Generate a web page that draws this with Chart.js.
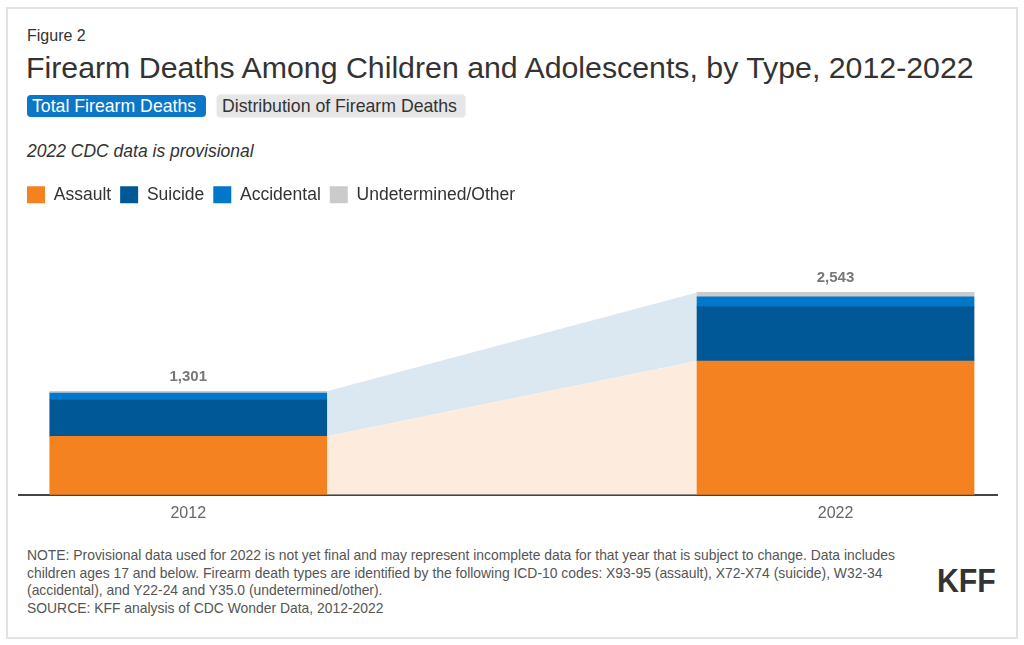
<!DOCTYPE html>
<html>
<head>
<meta charset="utf-8">
<script src="https://cdn.jsdelivr.net/npm/chart.js@4/dist/chart.umd.min.js"></script>
<style>
  html, body { margin:0; padding:0; background:#fff; }
  body { width:1024px; height:645px; position:relative; overflow:hidden; font-family:"Liberation Sans", Arial, sans-serif; color:#333; }
  .frame { position:absolute; left:6px; top:7px; width:1008px; height:628px; border:2px solid #e2e2e2; }
  .fig { position:absolute; left:27px; top:27px; font-size:16px; color:#333; }
  .title { position:absolute; left:26px; top:51px; font-size:30.3px; color:#333; white-space:nowrap; }
  .tab { position:absolute; top:95px; height:22px; line-height:22px; font-size:17.7px; border-radius:4px; white-space:nowrap; }
  .tab1 { left:27px; width:174px; padding-left:5px; background:#0a77c9; color:#fff; }
  .tab2 { left:217px; width:243px; padding-left:5px; background:#e6e6e6; color:#333; box-shadow:0 0 2px #ccc; }
  .sub { position:absolute; left:27px; top:141px; font-size:17.5px; font-style:italic; color:#333; }
  #wrap { position:absolute; left:18px; top:177px; width:980px; height:355px; }
  .note { position:absolute; left:27px; top:547px; font-size:13.9px; line-height:17.7px; color:#555; white-space:nowrap; }
  .kff { position:absolute; left:937px; top:561px; font-family:"Liberation Sans Narrow","Liberation Sans",Arial,sans-serif; font-weight:bold; font-size:34px; color:#333; transform:scaleX(0.89); transform-origin:left top; }
</style>
</head>
<body>
<div class="frame"></div>
<div class="fig">Figure 2</div>
<div class="title">Firearm Deaths Among Children and Adolescents, by Type, 2012-2022</div>
<div class="tab tab1">Total Firearm Deaths</div>
<div class="tab tab2">Distribution of Firearm Deaths</div>
<div class="sub">2022 CDC data is provisional</div>
<div id="wrap"><canvas id="c" width="980" height="355"></canvas></div>
<div class="note">NOTE: Provisional data used for 2022 is not yet final and may represent incomplete data for that year that is subject to change. Data includes<br>children ages 17 and below. Firearm death types are identified by the following ICD-10 codes: X93-95 (assault), X72-X74 (suicide), W32-34<br>(accidental), and Y22-24 and Y35.0 (undetermined/other).<br>SOURCE: KFF analysis of CDC Wonder Data, 2012-2022</div>
<div class="kff">KFF</div>
<script>
const categories = ['2012', '2022'];
const assault = [735, 1681];
const suicide = [463, 681];
const accidental = [80, 126];
const undetermined = [23, 55];
const totals = [1301, 2543];

const BAR_HALF = 0.214; // half bar width in x units
const pts = (arr) => arr.map((v, i) => ({ x: i, y: v }));
const bandPts = (arr) => [{ x: 0 + BAR_HALF, y: arr[0] }, { x: 1 - BAR_HALF, y: arr[1] }];

const barBase = { type: 'bar', barThickness: 277, borderWidth: 0, stack: 'bars', order: 1 };

const totalLabels = {
  id: 'totalLabels',
  afterDatasetsDraw(chart) {
    const ctx = chart.ctx;
    const xs = chart.scales.x, ys = chart.scales.y;
    ctx.save();
    ctx.font = 'bold 15px "Liberation Sans", Arial, sans-serif';
    ctx.fillStyle = '#777';
    ctx.textAlign = 'center';
    ctx.textBaseline = 'alphabetic';
    totals.forEach((t, i) => {
      ctx.fillText(t.toLocaleString('en-US'), xs.getPixelForValue(i), ys.getPixelForValue(t) - 10);
    });
    ctx.restore();
  }
};

new Chart(document.getElementById('c'), {
  data: {
    datasets: [
      Object.assign({}, barBase, { label: 'Assault', data: pts(assault), backgroundColor: '#f58220' }),
      Object.assign({}, barBase, { label: 'Suicide', data: pts(suicide), backgroundColor: '#005896' }),
      Object.assign({}, barBase, { label: 'Accidental', data: pts(accidental), backgroundColor: '#0077c8' }),
      Object.assign({}, barBase, { label: 'Undetermined/Other', data: pts(undetermined), backgroundColor: '#cbcbcb' }),
      { type: 'line', label: 'bandA', data: bandPts(assault), stack: 'b1', fill: 'origin',
        backgroundColor: '#fdecdd', borderWidth: 0, pointRadius: 0, tension: 0, order: 10 },
      { type: 'line', label: 'bandB', data: bandPts(totals), stack: 'b2', fill: '-1',
        backgroundColor: '#dce8f1', borderWidth: 0, pointRadius: 0, tension: 0, order: 10 }
    ]
  },
  options: {
    responsive: false,
    animation: false,
    layout: { padding: 0 },
    plugins: {
      tooltip: { enabled: false },
      legend: {
        position: 'top',
        align: 'start',
        labels: {
          filter: (item) => item.datasetIndex < 4,
          boxWidth: 18, boxHeight: 17, padding: 9,
          color: '#333',
          font: { size: 17.5, family: '"Liberation Sans", Arial, sans-serif' }
        }
      }
    },
    scales: {
      x: {
        type: 'linear',
        min: -0.263, max: 1.251,
        offset: false,
        bounds: 'data',
        stacked: true,
        afterBuildTicks: (axis) => { axis.ticks = categories.map((c, i) => ({ value: i })); },
        ticks: {
          callback: (v) => categories[v] ?? '',
          color: '#666', padding: 9,
          font: { size: 16, family: '"Liberation Sans", Arial, sans-serif' },
          maxRotation: 0, autoSkip: false
        },
        grid: { display: false, drawTicks: false, offset: false },
        border: { display: true, color: '#444', width: 2 }
      },
      y: {
        display: false,
        stacked: true,
        min: 0, max: 3535
      }
    }
  },
  plugins: [totalLabels]
});
</script>
</body>
</html>
